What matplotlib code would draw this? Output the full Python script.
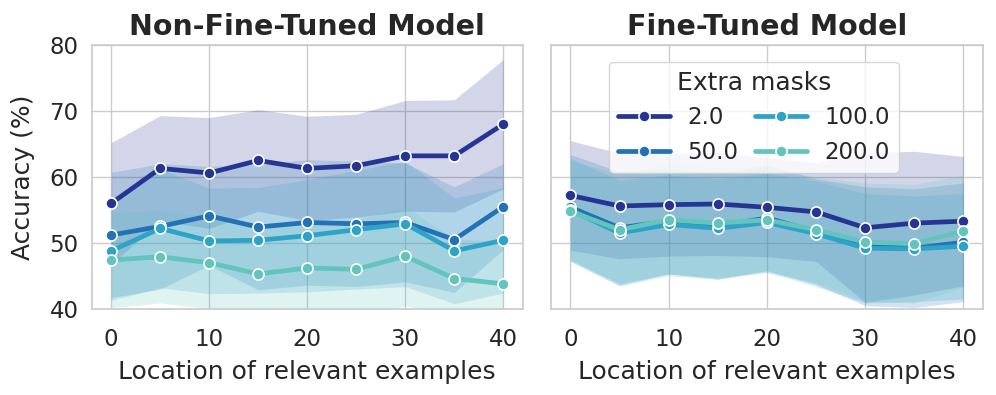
import matplotlib
matplotlib.use("Agg")
import matplotlib.pyplot as plt
import seaborn as sns
import numpy as np

sns.set_theme(style="whitegrid", font_scale=1.5)
plt.rcParams['font.family'] = ['DejaVu Sans']

locations = [0, 5, 10, 15, 20, 25, 30, 35, 40]
mask_labels = ["2.0", "50.0", "100.0", "200.0"]
colors = ["#263593", "#2272b5", "#2ea3c8", "#63c3bd"]

# Non-fine-tuned model: means and CI half-widths
nft_2 = [56.0, 61.3, 60.6, 62.5, 61.3, 61.7, 63.2, 63.2, 68.0]
nft_50 = [51.2, 52.5, 54.1, 52.4, 53.1, 52.9, 53.1, 50.5, 55.5]
nft_100 = [48.8, 52.2, 50.3, 50.4, 51.1, 52.0, 52.9, 48.8, 50.4]
nft_200 = [47.4, 47.9, 47.0, 45.3, 46.2, 46.0, 48.0, 44.6, 43.8]
nft_2_ci = [9.2, 8.0, 8.4, 7.7, 7.9, 7.8, 8.4, 8.5, 9.8]
nft_50_ci = [9.5, 9.5, 7.5, 9.5, 9.5, 9.5, 9.0, 8.0, 6.5]
nft_100_ci = [7.5, 9.0, 8.0, 8.0, 8.5, 9.0, 9.5, 8.0, 8.0]
nft_200_ci = [7.2, 7.0, 7.0, 7.5, 7.5, 7.5, 7.5, 6.0, 6.5]

# Fine-tuned model: means and CI half-widths
ft_2 = [57.2, 55.6, 55.8, 55.9, 55.4, 54.7, 52.3, 53.0, 53.3]
ft_50 = [55.4, 52.3, 53.3, 52.5, 53.8, 51.7, 49.5, 49.2, 50.1]
ft_100 = [55.0, 51.5, 52.8, 52.2, 53.1, 51.4, 49.2, 49.1, 49.5]
ft_200 = [54.8, 52.0, 53.5, 53.0, 53.5, 52.0, 50.1, 49.9, 51.8]
ft_2_ci = [8.3, 8.0, 7.8, 7.8, 7.5, 7.5, 11.3, 10.9, 9.8]
ft_50_ci = [8.0, 8.5, 8.0, 8.0, 8.0, 8.0, 9.0, 9.0, 9.0]
ft_100_ci = [7.8, 8.0, 7.5, 7.5, 7.5, 8.0, 8.3, 8.0, 8.0]
ft_200_ci = [7.6, 8.5, 8.5, 8.5, 8.0, 8.0, 9.0, 9.0, 8.5]

panels = [
    ("Non-Fine-Tuned Model", [nft_2, nft_50, nft_100, nft_200],
     [nft_2_ci, nft_50_ci, nft_100_ci, nft_200_ci]),
    ("Fine-Tuned Model", [ft_2, ft_50, ft_100, ft_200],
     [ft_2_ci, ft_50_ci, ft_100_ci, ft_200_ci]),
]

fig = plt.figure(figsize=(9.96, 3.95), dpi=100)
ax1 = fig.add_axes([0.092, 0.218, 0.433, 0.668])
ax2 = fig.add_axes([0.553, 0.218, 0.434, 0.668], sharey=ax1)
axes = [ax1, ax2]

x = np.array(locations)
for ax, (title, means, cis) in zip(axes, panels):
    for m, c, col, lab in zip(means, cis, colors, mask_labels):
        m = np.array(m); c = np.array(c)
        ax.plot(x, m, color=col, lw=3.4, marker='o', ms=8,
                mec='white', mew=1.2, label=lab, zorder=2)
        ax.fill_between(x, m - c, m + c, color=col, alpha=0.2, lw=0, zorder=1)
    ax.set_title(title, fontsize=20.5, fontweight='bold', pad=7)
    ax.set_xlabel("Location of relevant examples", fontsize=18, labelpad=6)
    ax.set_xlim(-2, 42)
    ax.set_ylim(40, 80)
    ax.set_xticks([0, 10, 20, 30, 40])
    ax.set_yticks([40, 50, 60, 70, 80])
    ax.tick_params(labelsize=16.5)
    ax.tick_params(axis='x', pad=8)

ax1.set_ylabel("Accuracy (%)", fontsize=18, labelpad=10)
ax2.tick_params(labelleft=False)

leg = ax2.legend(title="Extra masks", ncol=2, loc='upper center',
                 bbox_to_anchor=(0.47, 0.937), borderaxespad=0,
                 fontsize=16.5, title_fontsize=18,
                 handlelength=2.25, handletextpad=0.75, columnspacing=0.75)

fig.savefig("out.png", dpi=100)
